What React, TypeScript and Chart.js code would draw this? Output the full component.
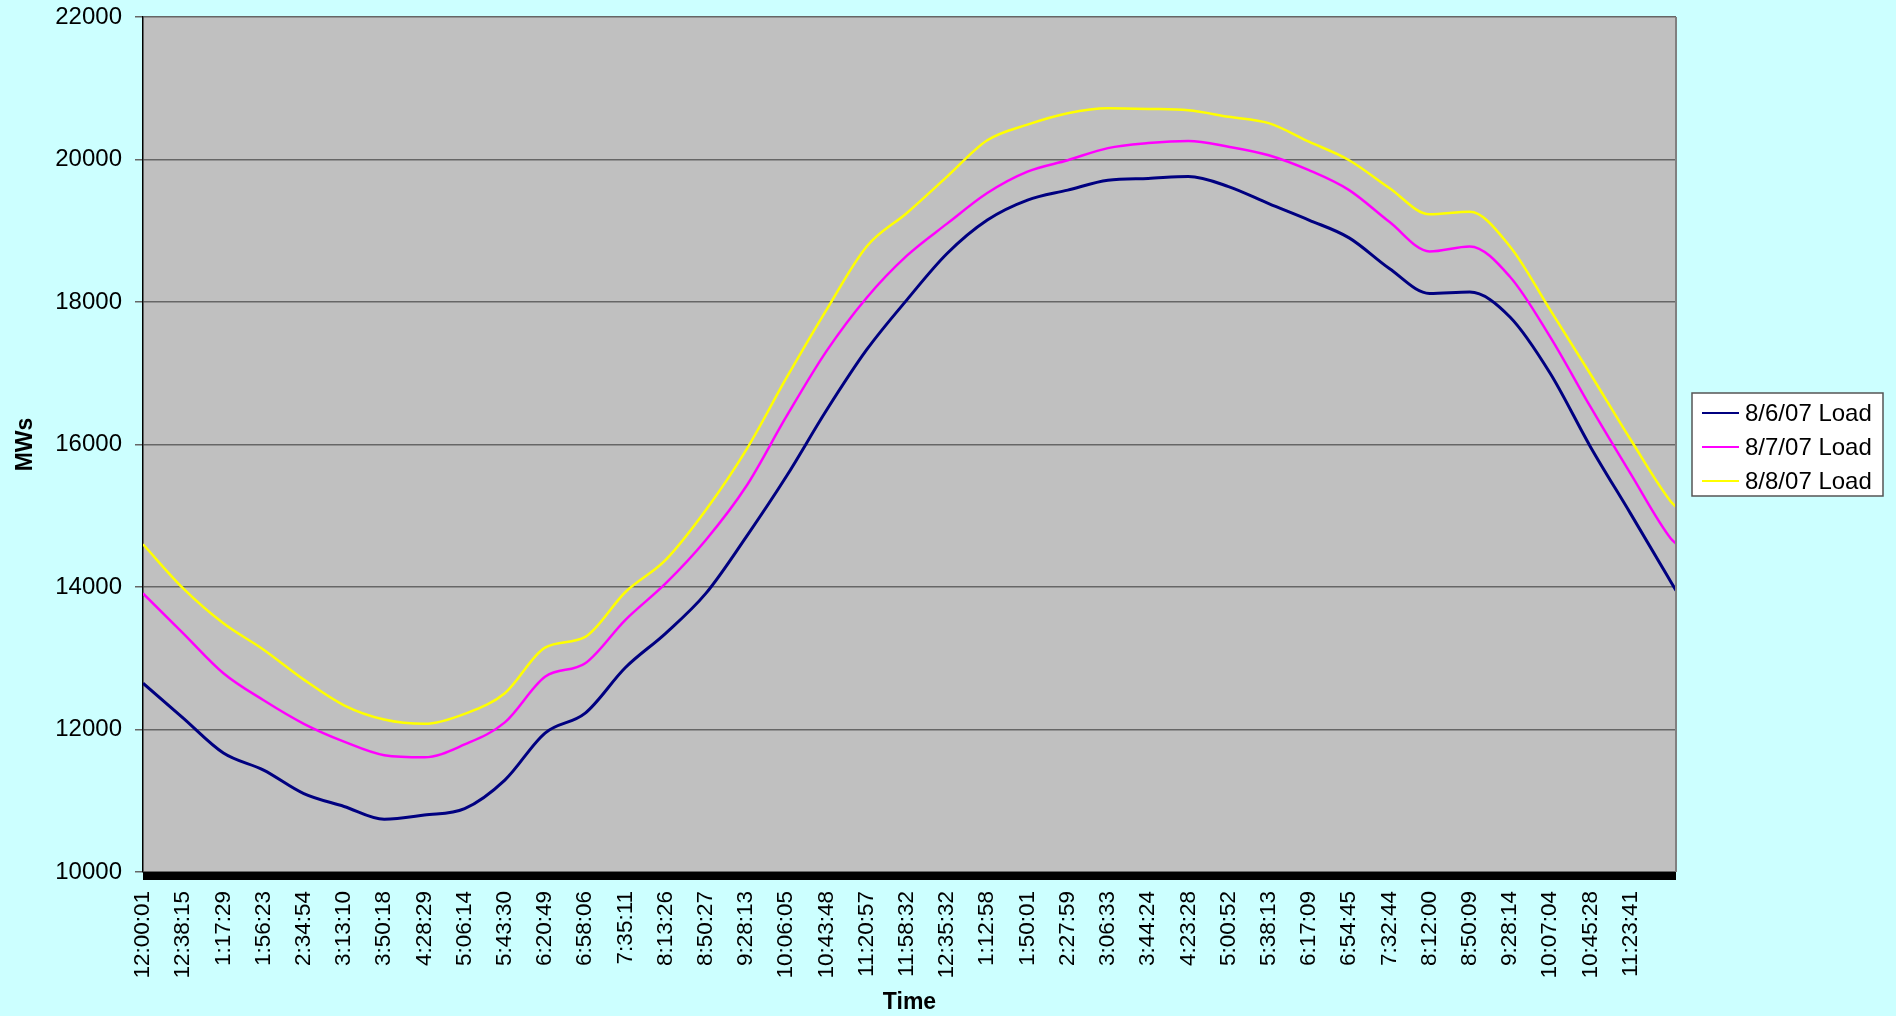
import React, { useEffect, useRef } from "react";
import { Chart, registerables } from "chart.js";

Chart.register(...registerables);

// Category tick labels (every ~38 minutes of the day)
const timeLabels = [
  "12:00:01", "12:38:15", "1:17:29", "1:56:23", "2:34:54", "3:13:10", "3:50:18", "4:28:29",
  "5:06:14", "5:43:30", "6:20:49", "6:58:06", "7:35:11", "8:13:26", "8:50:27", "9:28:13",
  "10:06:05", "10:43:48", "11:20:57", "11:58:32", "12:35:32", "1:12:58", "1:50:01", "2:27:59",
  "3:06:33", "3:44:24", "4:23:28", "5:00:52", "5:38:13", "6:17:09", "6:54:45", "7:32:44",
  "8:12:00", "8:50:09", "9:28:14", "10:07:04", "10:45:28", "11:23:41",
];

// Sample positions along the time axis, in units of tick-label intervals
const samplePos = [
  0, 1, 2, 3, 4, 5, 6, 7, 8, 9, 10, 11, 12, 13, 14, 15, 16, 17, 18, 19,
  20, 21, 22, 23, 24, 25, 26, 27, 28, 29, 30, 31, 32, 33, 34, 35, 36, 37, 38, 38.13,
];

const load0806 = [
  12650, 12160, 11670, 11430, 11100, 10920, 10740, 10800, 10890, 11290,
  11950, 12230, 12870, 13350, 13910, 14700, 15550, 16480, 17330, 18030,
  18680, 19150, 19430, 19570, 19710, 19735, 19760, 19620, 19380, 19150,
  18900, 18470, 18120, 18140, 17790, 17000, 15970, 15030, 14075, 13950,
];

const load0807 = [
  13910, 13350, 12790, 12410, 12080, 11830, 11640, 11610, 11790, 12100,
  12740, 12930, 13540, 14050, 14660, 15410, 16390, 17310, 18060, 18650,
  19100, 19530, 19830, 19990, 20160, 20230, 20260, 20180, 20060, 19850,
  19570, 19125, 18710, 18780, 18355, 17510, 16530, 15590, 14680, 14610,
];

const load0808 = [
  14600, 13980, 13490, 13120, 12700, 12340, 12140, 12080, 12220, 12510,
  13150, 13300, 13930, 14380, 15080, 15920, 16930, 17890, 18780, 19250,
  19760, 20270, 20490, 20650, 20720, 20710, 20690, 20600, 20510, 20250,
  19990, 19600, 19230, 19265, 18780, 17890, 16990, 16070, 15200, 15126,
];

const seriesNames = ["8/6/07 Load", "8/7/07 Load", "8/8/07 Load"];
const seriesColors = ["#000080", "#FF00FF", "#FFFF00"];

const FONT = "'Liberation Sans', Arial, sans-serif";

const backgroundPlugin = {
  id: "bgPlugin",
  beforeDraw(chart: any) {
    const { ctx, chartArea, width, height } = chart;
    ctx.save();
    ctx.fillStyle = "#CCFFFF";
    ctx.fillRect(0, 0, width, height);
    ctx.fillStyle = "#C0C0C0";
    ctx.fillRect(chartArea.left, chartArea.top, chartArea.right - chartArea.left, chartArea.bottom - chartArea.top);
    ctx.restore();
  },
  afterDraw(chart: any) {
    const { ctx, chartArea } = chart;
    ctx.save();
    // right border of plot area
    ctx.strokeStyle = "#808080";
    ctx.lineWidth = 2;
    ctx.beginPath();
    ctx.moveTo(chartArea.right, chartArea.top);
    ctx.lineTo(chartArea.right, chartArea.bottom);
    ctx.stroke();
    // dense category tick band under the axis
    ctx.fillStyle = "#000";
    ctx.fillRect(chartArea.left, chartArea.bottom, chartArea.right - chartArea.left, 8);

    // legend
    const w = 191;
    const h = 103;
    const x0 = chartArea.right + 16;
    const y0 = Math.round((chartArea.top + chartArea.bottom) / 2 - h / 2);
    ctx.fillStyle = "#FFFFFF";
    ctx.fillRect(x0, y0, w, h);
    ctx.strokeStyle = "#555";
    ctx.lineWidth = 1.5;
    ctx.strokeRect(x0, y0, w, h);
    ctx.font = `24px ${FONT}`;
    ctx.textBaseline = "middle";
    ctx.textAlign = "left";
    chart.data.datasets.forEach((ds: any, i: number) => {
      const cy = y0 + 20 + i * 34;
      ctx.strokeStyle = ds.borderColor;
      ctx.lineWidth = 2;
      ctx.beginPath();
      ctx.moveTo(x0 + 10, cy);
      ctx.lineTo(x0 + 47, cy);
      ctx.stroke();
      ctx.fillStyle = "#000";
      ctx.fillText(ds.label, x0 + 53, cy + 1);
    });
    ctx.restore();
  },
};

export default function App() {
  const canvasRef = useRef<HTMLCanvasElement | null>(null);

  useEffect(() => {
    document.body.style.margin = "0";
    document.body.style.background = "#CCFFFF";
    const canvas = canvasRef.current;
    if (!canvas) return;
    const series = [load0806, load0807, load0808];
    const chart = new Chart(canvas, {
      type: "line",
      data: {
        datasets: series.map((vals, k) => ({
          label: seriesNames[k],
          data: samplePos.map((x, i) => ({ x, y: vals[i] })),
          borderColor: seriesColors[k],
          backgroundColor: seriesColors[k],
          borderWidth: k === 0 ? 3 : 2.5,
          pointRadius: 0,
          cubicInterpolationMode: "monotone" as const,
          fill: false,
        })),
      },
      options: {
        animation: false,
        responsive: false,
        maintainAspectRatio: false,
        layout: { padding: { left: 12, top: 17, right: 220, bottom: 0 } },
        plugins: {
          legend: { display: false },
          tooltip: { enabled: false },
        },
        scales: {
          x: {
            type: "linear",
            min: 0,
            max: 38.13,
            afterBuildTicks: (scale: any) => {
              scale.ticks = timeLabels.map((_, i) => ({ value: i }));
            },
            afterFit: (scale: any) => {
              scale.height = 144;
              scale.paddingLeft = 0;
              scale.paddingRight = 0;
            },
            grid: { display: false },
            border: { display: false },
            ticks: {
              autoSkip: false,
              minRotation: 90,
              maxRotation: 90,
              padding: 11,
              color: "#000",
              font: { family: FONT, size: 22.5 },
              callback: (value: any) => timeLabels[Math.round(Number(value))] ?? "",
            },
            title: {
              display: true,
              text: "Time",
              color: "#000",
              padding: 0,
              font: { family: FONT, size: 23, weight: "bold" },
            },
          },
          y: {
            min: 10000,
            max: 22000,
            afterFit: (scale: any) => {
              scale.width = 131;
              scale.paddingTop = 0;
              scale.paddingBottom = 0;
            },
            grid: {
              color: "#666",
              lineWidth: 1.5,
              tickLength: 8,
              tickColor: "#666",
            },
            border: { display: true, color: "#000", width: 1.5 },
            ticks: {
              stepSize: 2000,
              padding: 13,
              color: "#000",
              font: { family: FONT, size: 24 },
              callback: (value: any) => String(value),
            },
            title: {
              display: true,
              text: "MWs",
              color: "#000",
              padding: 0,
              font: { family: FONT, size: 23, weight: "bold" },
            },
          },
        },
      },
      plugins: [backgroundPlugin],
    });
    return () => chart.destroy();
  }, []);

  return (
    <div style={{ width: 1896, height: 1016, background: "#CCFFFF" }}>
      <canvas ref={canvasRef} width={1896} height={1016} style={{ display: "block" }} />
    </div>
  );
}
